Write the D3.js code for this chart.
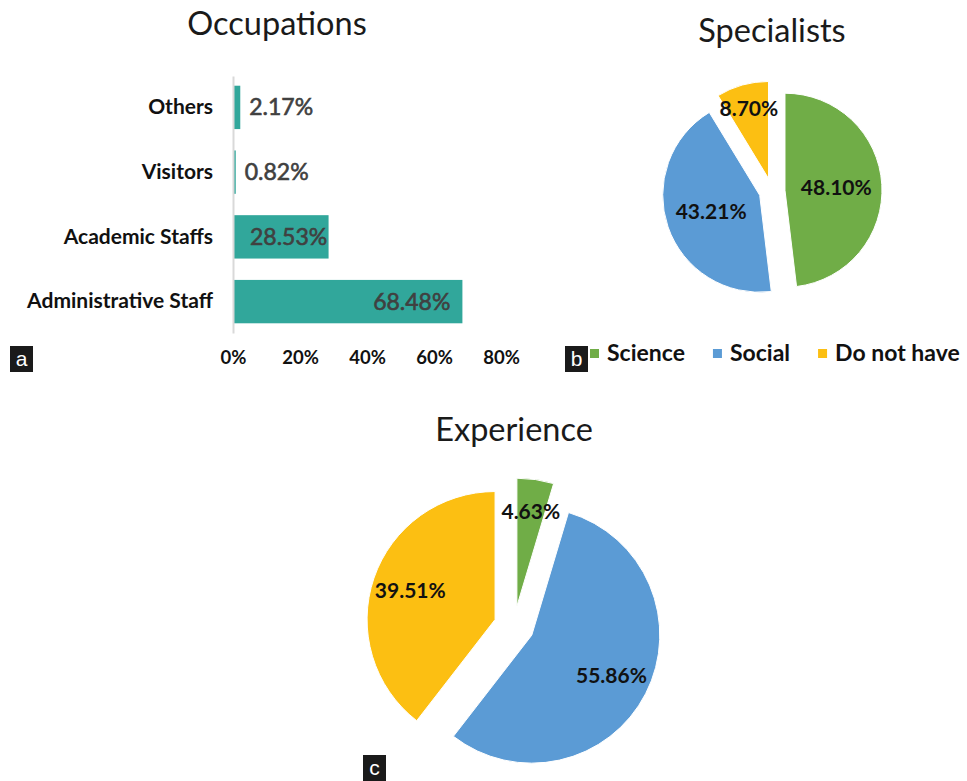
<!DOCTYPE html>
<html>
<head>
<meta charset="utf-8">
<script src="https://cdn.jsdelivr.net/npm/d3@7"></script>
<style>
  body { margin: 0; background: #fff; }
  svg { display: block; font-family: Lato, "Open Sans", sans-serif; }
</style>
</head>
<body>
<div id="visualization"></div>
<script>
let w = 967;
let h = 781;

// data
let occCategories = ["Others", "Visitors", "Academic Staffs", "Administrative Staff"];
let occValues = [2.17, 0.82, 28.53, 68.48];
let occTicks = [0, 20, 40, 60, 80];

let groupNames = ["Science", "Social", "Do not have"];
let groupColors = ["#70ad47", "#5b9bd5", "#fcbf12"];
let specialistValues = [48.10, 43.21, 8.70];
let experienceValues = [4.63, 55.86, 39.51];

let fmt = d => d3.format(".2f")(d) + "%";

let viz = d3.select("#visualization")
  .append("svg")
  .attr("width", w)
  .attr("height", h)
;

// ---------- (a) occupations bar chart ----------
let xScale = d3.scaleLinear().domain([0, 80]).range([233, 501]);
let yScale = d3.scaleBand().domain(occCategories).range([76, 333])
  .paddingInner(0.33).paddingOuter(0.15);

viz.append("text")
  .attr("x", 277).attr("y", 35)
  .attr("text-anchor", "middle")
  .style("font-size", "32.5px").style("fill", "#1a1a1a")
  .text("Occupations");

viz.selectAll(".bar").data(occValues).enter()
  .append("rect")
  .attr("class", "bar")
  .attr("x", xScale(0))
  .attr("y", (d, i) => yScale(occCategories[i]))
  .attr("width", d => xScale(d) - xScale(0))
  .attr("height", yScale.bandwidth())
  .attr("fill", "#31a79b")
;

let yAxisGroup = viz.append("g").attr("transform", "translate(" + xScale(0) + ",0)");
yAxisGroup.call(d3.axisLeft(yScale).tickSize(0).tickSizeOuter(0).tickPadding(20));
yAxisGroup.select(".domain").attr("stroke", "#d9d9d9").attr("stroke-width", 2);
yAxisGroup.selectAll("text")
  .style("font-family", "Lato, sans-serif")
  .style("font-size", "21px").style("font-weight", "bold").style("fill", "#111");

let xAxisGroup = viz.append("g").attr("transform", "translate(0,351)");
xAxisGroup.call(d3.axisBottom(xScale).tickValues(occTicks).tickSize(0).tickPadding(0)
  .tickFormat(d => d + "%"));
xAxisGroup.select(".domain").remove();
xAxisGroup.selectAll("text")
  .style("font-family", "Lato, sans-serif")
  .style("font-size", "18.5px").style("font-weight", "bold").style("fill", "#111");

viz.selectAll(".barlabel").data(occValues).enter()
  .append("text")
  .attr("class", "barlabel")
  .attr("y", (d, i) => yScale(occCategories[i]) + yScale.bandwidth() / 2)
  .attr("dy", "0.35em")
  .style("font-size", "23px").style("fill", "#404040")
  .style("stroke", "#404040").style("stroke-width", 0.6)
  .text(d => fmt(d))
  .each(function(d){
    let t = d3.select(this);
    if (d < 10) {
      t.attr("x", xScale(d) + 9);
    } else {
      let tw = this.getComputedTextLength();
      t.attr("x", Math.max(xScale(d) - 12 - tw, xScale(0) + 17));
    }
  })
;

// ---------- pies ----------
function drawPie(values, cx, cy, r, explode, labelFactor, title, titleY){
  let pie = d3.pie().sort(null);
  let arcs = pie(values);
  let arc = d3.arc().innerRadius(0).outerRadius(r);

  viz.append("text")
    .attr("x", cx).attr("y", titleY)
    .attr("text-anchor", "middle")
    .style("font-size", "32.5px").style("fill", "#1a1a1a")
    .text(title);

  let g = viz.append("g").attr("transform", "translate(" + cx + "," + cy + ")");
  let slices = g.selectAll(".slice").data(arcs).enter()
    .append("g")
    .attr("class", "slice")
    .attr("transform", function(d){
      let a = (d.startAngle + d.endAngle) / 2;
      return "translate(" + (Math.sin(a) * explode) + "," + (-Math.cos(a) * explode) + ")";
    });

  slices.append("path")
    .attr("d", arc)
    .attr("fill", (d, i) => groupColors[i])
    .attr("stroke", "#fff")
    .attr("stroke-width", 1);

  slices.append("text")
    .attr("x", function(d){
      let a = (d.startAngle + d.endAngle) / 2;
      let f = d.value < 10 ? 0.75 : labelFactor;
      return Math.sin(a) * r * f;
    })
    .attr("y", function(d){
      let a = (d.startAngle + d.endAngle) / 2;
      let f = d.value < 10 ? 0.75 : labelFactor;
      return -Math.cos(a) * r * f;
    })
    .attr("dy", "0.35em")
    .attr("text-anchor", "middle")
    .style("font-size", "21px").style("font-weight", "bold").style("fill", "#111")
    .text(d => fmt(d.value));
}

// (b) specialists
drawPie(specialistValues, 772, 191, 97, 13, 0.53, "Specialists", 42);

// legend for (b)
let legend = viz.append("g").attr("transform", "translate(590,353)");
let lx = 0;
groupNames.forEach(function(name, i){
  let item = legend.append("g").attr("transform", "translate(" + lx + ",0)");
  item.append("rect")
    .attr("x", 0).attr("y", -4).attr("width", 9).attr("height", 9)
    .attr("fill", groupColors[i]);
  let t = item.append("text")
    .attr("x", 17).attr("y", 0).attr("dy", "0.35em")
    .style("font-size", "23px").style("font-weight", "bold").style("fill", "#111")
    .text(name);
  lx += 17 + t.node().getComputedTextLength() + 28;
});

// (c) experience
drawPie(experienceValues, 514, 626, 128, 20, 0.7, "Experience", 441);

// ---------- panel letters ----------
let panelLetters = [
  {label: "a", x: 10, y: 346},
  {label: "b", x: 565, y: 346},
  {label: "c", x: 363, y: 755}
];
let tags = viz.selectAll(".tag").data(panelLetters).enter()
  .append("g").attr("class", "tag")
  .attr("transform", d => "translate(" + d.x + "," + d.y + ")");
tags.append("rect").attr("width", 23).attr("height", 26).attr("fill", "#1a1a1a");
tags.append("text")
  .attr("x", 11.5).attr("y", 20)
  .attr("text-anchor", "middle")
  .style("font-family", "'Liberation Sans', Arial, sans-serif")
  .style("font-size", "21px").style("fill", "#fff")
  .text(d => d.label);
</script>
</body>
</html>
